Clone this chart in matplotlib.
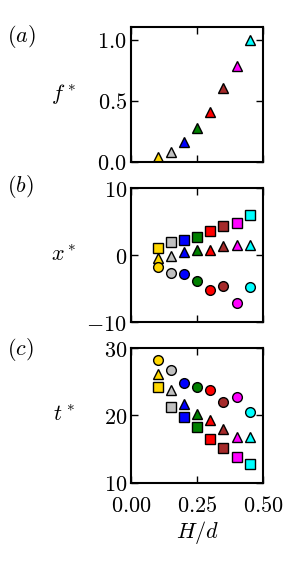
import matplotlib
matplotlib.use("Agg")
from matplotlib import pyplot as plt
from matplotlib.ticker import FuncFormatter

plt.rcParams['mathtext.fontset'] = 'cm'
plt.rcParams['font.family'] = 'serif'
plt.rcParams['font.serif'] = ['DejaVu Serif']

# data
H_d = [0.10, 0.15, 0.20, 0.25, 0.30, 0.35, 0.40, 0.45]
colors = ['gold', 'silver', 'blue', 'green', 'red', 'brown', 'magenta', 'cyan']

f_star = [0.04, 0.08, 0.16, 0.28, 0.41, 0.60, 0.78, 1.00]

x_square = [1.0, 1.9, 2.25, 2.75, 3.65, 4.4, 4.85, 5.9]
x_triangle = [-0.5, -0.15, 0.5, 0.7, 0.7, 1.3, 1.5, 1.5]
x_circle = [-1.8, -2.65, -2.8, -3.8, -5.15, -4.55, -7.15, -4.8]

t_circle = [28.3, 26.8, 24.9, 24.2, 23.8, 22.0, 22.7, 20.5]
t_triangle = [26.2, 23.8, 21.7, 20.2, 19.4, 18.0, 16.8, 16.8]
t_square = [24.3, 21.3, 19.8, 18.3, 16.5, 15.1, 13.9, 12.8]

FS = 16
MS = 7


def draw(ax, ys, marker):
    for xv, yv, c in zip(H_d, ys, colors):
        ax.plot(xv, yv, marker=marker, color=c, markeredgecolor='k',
                markersize=MS, markeredgewidth=1.0, linestyle='none')


fig = plt.figure(figsize=(2.92, 5.68), dpi=100)
left, width = 0.449, 0.452
ax_a = fig.add_axes([left, 0.715, width, 0.237])
ax_b = fig.add_axes([left, 0.433, width, 0.236])
ax_c = fig.add_axes([left, 0.150, width, 0.237])

draw(ax_a, f_star, '^')
ax_a.set_ylim(0, 1.1)
ax_a.set_yticks([0.0, 0.5, 1.0])
ax_a.yaxis.set_major_formatter(FuncFormatter(lambda v, p: f"${v:.1f}$"))

draw(ax_b, x_square, 's')
draw(ax_b, x_triangle, '^')
draw(ax_b, x_circle, 'o')
ax_b.set_ylim(-10, 10)
ax_b.set_yticks([-10, 0, 10])
ax_b.yaxis.set_major_formatter(FuncFormatter(lambda v, p: f"${v:.0f}$"))

draw(ax_c, t_circle, 'o')
draw(ax_c, t_triangle, '^')
draw(ax_c, t_square, 's')
ax_c.set_ylim(10, 30)
ax_c.set_yticks([10, 20, 30])
ax_c.yaxis.set_major_formatter(FuncFormatter(lambda v, p: f"${v:.0f}$"))

labels = [r'$f^*$', r'$x^*$', r'$t^*$']
for ax, lab in zip([ax_a, ax_b, ax_c], labels):
    ax.set_xlim(0, 0.5)
    ax.set_xticks([0.0, 0.25, 0.5])
    ax.tick_params(direction='in', top=True, right=True, length=5, width=1,
                   labelsize=FS, pad=3)
    for sp in ax.spines.values():
        sp.set_linewidth(1.5)
    ax.set_ylabel(lab, fontsize=FS, rotation=0, va='center', ha='center')
    ax.yaxis.set_label_coords(-0.51, 0.5)
    if ax is not ax_c:
        ax.tick_params(labelbottom=False)

# panel tags sit at fixed places in the figure
for tag, ypos in zip([r'$(a)$', r'$(b)$', r'$(c)$'], [0.935, 0.671, 0.384]):
    fig.text(0.025, ypos, tag, fontsize=FS, va='center')

ax_c.tick_params(axis='x', pad=9)
ax_c.xaxis.set_major_formatter(FuncFormatter(lambda v, p: f"${v:.2f}$"))
ax_c.set_xlabel(r'$H/d$', fontsize=FS, labelpad=1)

fig.savefig('out.png', dpi=100)
